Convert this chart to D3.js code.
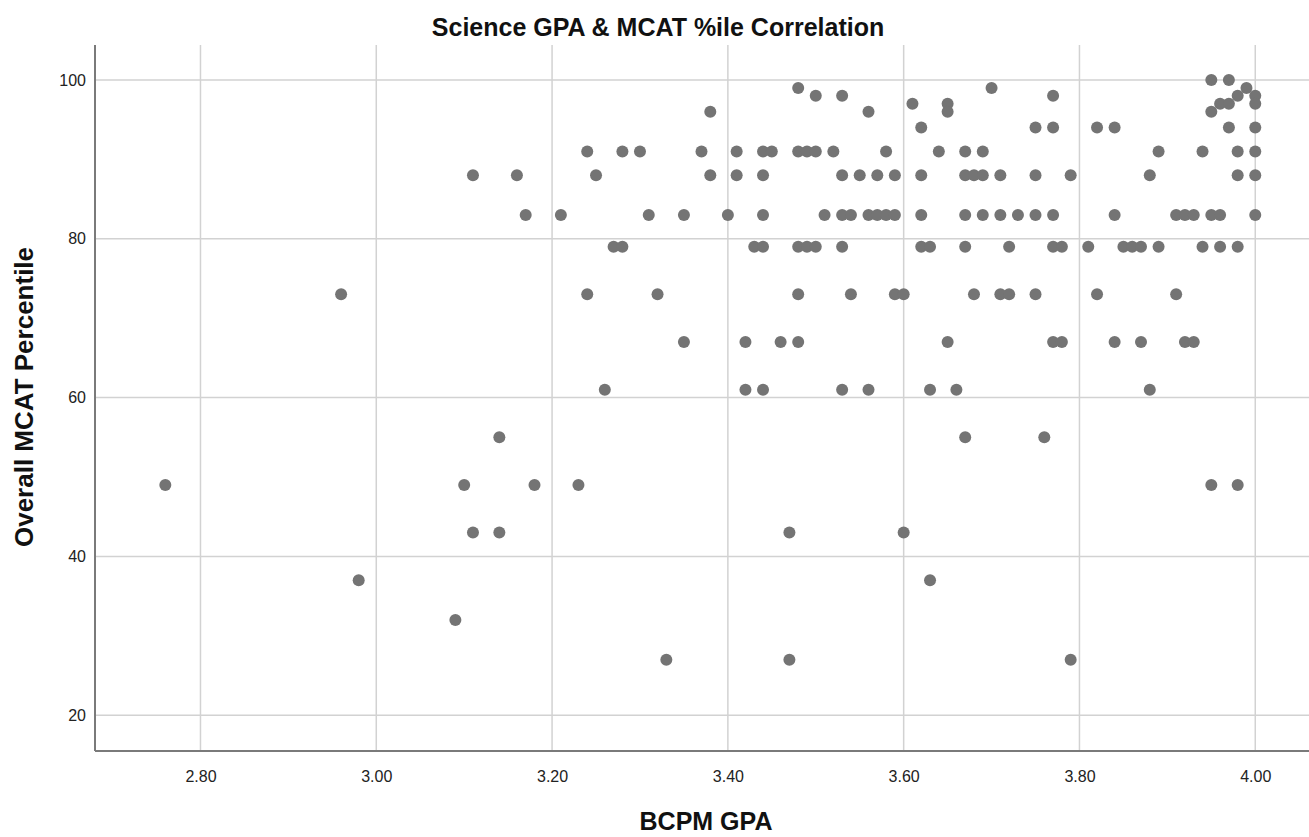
<!DOCTYPE html>
<html>
<head>
<meta charset="utf-8">
<script src="https://cdn.jsdelivr.net/npm/d3@7"></script>
<style>
    body { margin: 0; background: white; }
    svg text { font-family: "Liberation Sans", Arial, sans-serif; }
</style>
</head>
<body>
<div id="chart"></div>
<script>

// one entry per dot
const bcpmGpa = [
    3.95, 3.97,
    3.48, 3.70, 3.99,
    3.50, 3.53, 3.77, 3.98, 4.00,
    3.61, 3.65, 3.96, 3.97, 4.00,
    3.38, 3.56, 3.65, 3.95,
    3.62, 3.75, 3.77, 3.82, 3.84, 3.97, 4.00,
    3.24, 3.28, 3.30, 3.37, 3.41, 3.44, 3.45, 3.48, 3.49, 3.50, 3.52, 3.58, 3.64, 3.67, 3.69, 3.89, 3.94, 3.98, 4.00,
    3.11, 3.16, 3.25, 3.38, 3.41, 3.44, 3.53, 3.55, 3.57, 3.59, 3.62, 3.67, 3.68, 3.69, 3.71, 3.75, 3.79, 3.88, 3.98, 4.00,
    3.17, 3.21, 3.31, 3.35, 3.40, 3.44, 3.51, 3.53, 3.54, 3.56, 3.57, 3.58, 3.59, 3.62, 3.67, 3.69, 3.71, 3.73, 3.75, 3.77, 3.84, 3.91, 3.92, 3.93, 3.95, 3.96, 4.00,
    3.27, 3.28, 3.43, 3.44, 3.48, 3.49, 3.50, 3.53, 3.62, 3.63, 3.67, 3.72, 3.77, 3.78, 3.81, 3.85, 3.86, 3.87, 3.89, 3.94, 3.96, 3.98,
    2.96, 3.24, 3.32, 3.48, 3.54, 3.59, 3.60, 3.68, 3.71, 3.72, 3.75, 3.82, 3.91,
    3.35, 3.42, 3.46, 3.48, 3.65, 3.77, 3.78, 3.84, 3.87, 3.92, 3.93,
    3.26, 3.42, 3.44, 3.53, 3.56, 3.63, 3.66, 3.88,
    3.14, 3.67, 3.76,
    2.76, 3.10, 3.18, 3.23, 3.95, 3.98,
    3.11, 3.14, 3.47, 3.60,
    2.98, 3.63,
    3.09,
    3.33, 3.47, 3.79
];

const mcatPct = [
    100, 100,
    99, 99, 99,
    98, 98, 98, 98, 98,
    97, 97, 97, 97, 97,
    96, 96, 96, 96,
    94, 94, 94, 94, 94, 94, 94,
    91, 91, 91, 91, 91, 91, 91, 91, 91, 91, 91, 91, 91, 91, 91, 91, 91, 91, 91,
    88, 88, 88, 88, 88, 88, 88, 88, 88, 88, 88, 88, 88, 88, 88, 88, 88, 88, 88, 88,
    83, 83, 83, 83, 83, 83, 83, 83, 83, 83, 83, 83, 83, 83, 83, 83, 83, 83, 83, 83, 83, 83, 83, 83, 83, 83, 83,
    79, 79, 79, 79, 79, 79, 79, 79, 79, 79, 79, 79, 79, 79, 79, 79, 79, 79, 79, 79, 79, 79,
    73, 73, 73, 73, 73, 73, 73, 73, 73, 73, 73, 73, 73,
    67, 67, 67, 67, 67, 67, 67, 67, 67, 67, 67,
    61, 61, 61, 61, 61, 61, 61, 61,
    55, 55, 55,
    49, 49, 49, 49, 49, 49,
    43, 43, 43, 43,
    37, 37,
    32,
    27, 27, 27
];

const xTicks = [2.80, 3.00, 3.20, 3.40, 3.60, 3.80, 4.00];
const yTicks = [20, 40, 60, 80, 100];

const title = 'Science GPA & MCAT %ile Correlation';
const xTitle = 'BCPM GPA';
const yTitle = 'Overall MCAT Percentile';

let points = bcpmGpa.map((g, i) => ({gpa: g, pct: mcatPct[i]}));

let dim = {width: 1309, height: 837};
let plot = {left: 95, right: 1309, top: 45, bottom: 751};

let svg = d3.select('#chart').append('svg')
    .attr('width', dim.width)
    .attr('height', dim.height);

let x = d3.scaleLinear().domain([2.68, 4.06]).range([plot.left, plot.right - 1]);
let y = d3.scaleLinear().domain([15.5, 104.4]).range([plot.bottom, plot.top]);

// grid lines
svg.append('g')
    .selectAll('line')
    .data(xTicks)
    .join('line')
    .attr('x1', d => x(d)).attr('x2', d => x(d))
    .attr('y1', plot.top).attr('y2', plot.bottom)
    .attr('stroke', '#d2d2d2')
    .attr('stroke-width', 1.5);

svg.append('g')
    .selectAll('line')
    .data(yTicks)
    .join('line')
    .attr('x1', plot.left).attr('x2', plot.right)
    .attr('y1', d => y(d)).attr('y2', d => y(d))
    .attr('stroke', '#d2d2d2')
    .attr('stroke-width', 1.5);

// axes, SPSS style: no tick marks, just the lines and labels
let xAxis = svg.append('g')
    .attr('transform', `translate(0,${plot.bottom})`)
    .call(d3.axisBottom(x).tickValues(xTicks).tickFormat(d3.format('.2f')).tickSize(0).tickPadding(20));

let yAxis = svg.append('g')
    .attr('transform', `translate(${plot.left},0)`)
    .call(d3.axisLeft(y).tickValues(yTicks).tickSize(0).tickPadding(9));

xAxis.select('.domain').remove();
yAxis.select('.domain').remove();

[xAxis, yAxis].forEach(a => {
    a.selectAll('text')
        .attr('font-size', 16)
        .attr('font-family', '"Liberation Sans", Arial, sans-serif')
        .attr('fill', '#222');
});

svg.append('line')
    .attr('x1', plot.left).attr('x2', plot.left)
    .attr('y1', plot.top).attr('y2', plot.bottom)
    .attr('stroke', '#7a7a7a').attr('stroke-width', 2);

svg.append('line')
    .attr('x1', plot.left).attr('x2', plot.right)
    .attr('y1', plot.bottom).attr('y2', plot.bottom)
    .attr('stroke', '#7a7a7a').attr('stroke-width', 2);

// dots
svg.append('g')
    .selectAll('circle')
    .data(points)
    .join('circle')
    .attr('cx', d => x(d.gpa))
    .attr('cy', d => y(d.pct))
    .attr('r', 6)
    .attr('fill', '#747474');

// titles
svg.append('text')
    .attr('x', 658).attr('y', 36)
    .attr('text-anchor', 'middle')
    .attr('font-size', 25)
    .attr('font-weight', 'bold')
    .attr('fill', '#111')
    .text(title);

svg.append('text')
    .attr('x', 706).attr('y', 830)
    .attr('text-anchor', 'middle')
    .attr('font-size', 25)
    .attr('font-weight', 'bold')
    .attr('fill', '#111')
    .text(xTitle);

svg.append('text')
    .attr('transform', 'translate(33,397) rotate(-90)')
    .attr('text-anchor', 'middle')
    .attr('font-size', 26)
    .attr('font-weight', 'bold')
    .attr('fill', '#111')
    .text(yTitle);

</script>
</body>
</html>
